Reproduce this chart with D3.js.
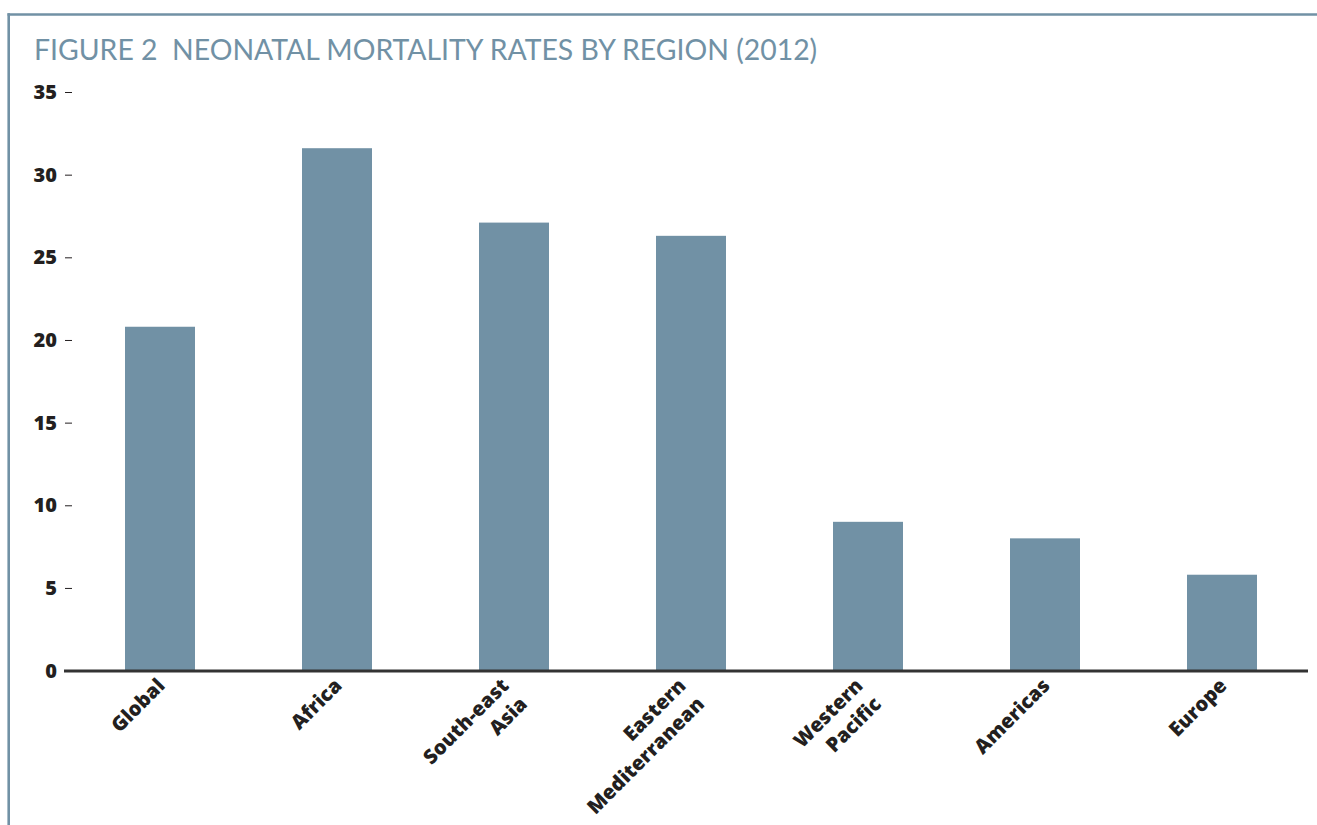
<!DOCTYPE html>
<html>
<head>
<meta charset="utf-8">
<script src="https://cdn.jsdelivr.net/npm/d3@7.9.0/dist/d3.min.js"></script>
<style>
  html, body { margin: 0; padding: 0; background: #fff; }
  svg { display: block; }
  .title { white-space: pre; }
</style>
</head>
<body>
<svg id="chart" width="1317" height="825"></svg>
<script>
// data
const regions = ["Global", "Africa", "South-east\nAsia", "Eastern\nMediterranean", "Western\nPacific", "Americas", "Europe"];
const rates = [20.8, 31.6, 27.1, 26.3, 9.0, 8.0, 5.8];
const yTicks = [0, 5, 10, 15, 20, 25, 30, 35];
const titleText = "FIGURE 2  NEONATAL MORTALITY RATES BY REGION (2012)";

const blue = "#7191a5";
const ink = "#231f20";

const svg = d3.select("#chart");

// frame lines (top and left)
svg.append("line")
    .attr("x1", 7.5).attr("x2", 1317)
    .attr("y1", 14.5).attr("y2", 14.5)
    .attr("stroke", blue).attr("stroke-width", 2.6);
svg.append("line")
    .attr("x1", 8.7).attr("x2", 8.7)
    .attr("y1", 13.2).attr("y2", 825)
    .attr("stroke", blue).attr("stroke-width", 2.6);

svg.append("text")
    .attr("class", "title")
    .attr("x", 34).attr("y", 60)
    .attr("fill", blue)
    .style("font-family", "Lato, 'Open Sans', sans-serif")
    .style("font-size", "28.4px")
    .text(titleText);

let y = d3.scaleLinear().domain([0, 35]).range([670.6, 92]);
let x = d3.scaleBand()
    .domain(regions)
    .range([71.5, 1310.5])
    .paddingInner(0.6045)
    .paddingOuter(0.30225);

// bars
svg.append("g")
    .selectAll("rect")
    .data(regions)
    .join("rect")
    .attr("x", (d) => x(d))
    .attr("width", x.bandwidth())
    .attr("y", (d, i) => y(rates[i]))
    .attr("height", (d, i) => y(0) - y(rates[i]))
    .attr("fill", blue);

// y axis: bold labels with a short dash after them
let yAxis = d3.axisLeft(y).tickValues(yTicks).tickSize(0).tickPadding(0);
let gy = svg.append("g").attr("transform", "translate(57,0)").call(yAxis);
gy.select(".domain").remove();
gy.selectAll("text")
    .attr("x", 0)
    .attr("fill", ink)
    .style("font-family", "'Open Sans', sans-serif")
    .style("font-weight", 800)
    .style("font-size", "20px");
gy.selectAll(".tick")
    .filter((d) => d !== 0)
    .append("line")
    .attr("x1", 8).attr("x2", 15)
    .attr("stroke", ink).attr("stroke-width", 1);

// x axis baseline
svg.append("line")
    .attr("x1", 64).attr("x2", 1308)
    .attr("y1", 671).attr("y2", 671)
    .attr("stroke", "#333").attr("stroke-width", 3);

// rotated category labels, right-aligned lines
let gx = svg.append("g");
regions.forEach((r) => {
    let lines = r.split("\n");
    let cx = x(r) + x.bandwidth() / 2 + (lines.length > 1 ? -4 : 6);
    let t = gx.append("text")
        .attr("transform", `translate(${cx},687) rotate(-45)`)
        .attr("text-anchor", "end")
        .attr("fill", ink)
        .style("font-family", "'Open Sans', sans-serif")
        .style("font-weight", 800)
        .style("font-size", "20px");
    lines.forEach((line, i) => {
        t.append("tspan")
            .attr("x", 0)
            .attr("dy", i === 0 ? 0 : 26)
            .text(line);
    });
});
</script>
</body>
</html>
